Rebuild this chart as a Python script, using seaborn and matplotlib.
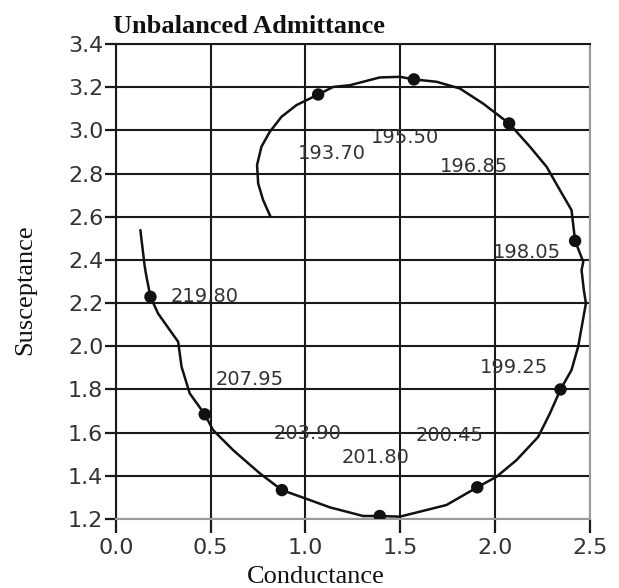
import matplotlib
matplotlib.use("Agg")
import matplotlib.pyplot as plt
import seaborn as sns
import pandas as pd

# Curva de admitância (condutância, susceptância)
cond = [0.816, 0.777, 0.751, 0.745, 0.768, 0.812, 0.874, 0.953, 1.067, 1.146,
        1.234, 1.392, 1.498, 1.572, 1.691, 1.814, 1.937, 2.074, 2.184, 2.272,
        2.342, 2.403, 2.422, 2.465, 2.456, 2.468, 2.479, 2.438, 2.403, 2.345,
        2.289, 2.227, 2.113, 2.008, 1.906, 1.744, 1.603, 1.498, 1.392, 1.304,
        1.217, 1.129, 1.023, 0.876, 0.759, 0.619, 0.513, 0.469, 0.390, 0.347,
        0.329, 0.285, 0.223, 0.183, 0.162, 0.153, 0.136, 0.130]
susc = [2.600, 2.677, 2.754, 2.839, 2.924, 2.993, 3.063, 3.117, 3.166, 3.201,
        3.209, 3.245, 3.248, 3.236, 3.225, 3.194, 3.124, 3.032, 2.924, 2.831,
        2.723, 2.631, 2.488, 2.391, 2.353, 2.260, 2.199, 1.998, 1.890, 1.800,
        1.689, 1.580, 1.473, 1.396, 1.347, 1.265, 1.234, 1.211, 1.214, 1.214,
        1.234, 1.254, 1.288, 1.334, 1.412, 1.519, 1.612, 1.685, 1.782, 1.905,
        2.021, 2.075, 2.152, 2.229, 2.322, 2.368, 2.492, 2.538]

# Pontos marcados e frequências
freqs = ["193.70", "195.50", "196.85", "198.05", "199.25",
         "200.45", "201.80", "203.90", "207.95", "219.80"]
mark_g = [1.067, 1.572, 2.074, 2.422, 2.345, 1.906, 1.392, 0.876, 0.469, 0.183]
mark_b = [3.166, 3.236, 3.032, 2.488, 1.800, 1.347, 1.214, 1.334, 1.685, 2.229]
label_g = [1.142, 1.524, 1.891, 2.168, 2.098, 1.762, 1.371, 1.009, 0.705, 0.469]
label_b = [2.894, 2.966, 2.834, 2.436, 1.901, 1.587, 1.485, 1.594, 1.848, 2.232]

x_ticks = [0.0, 0.5, 1.0, 1.5, 2.0, 2.5]
y_ticks = [1.2, 1.4, 1.6, 1.8, 2.0, 2.2, 2.4, 2.6, 2.8, 3.0, 3.2, 3.4]

curva = pd.DataFrame({"g": cond, "b": susc})
pontos = pd.DataFrame({"g": mark_g, "b": mark_b})

sns.set_theme(style="white")
plt.rcParams["font.family"] = ["DejaVu Sans"]

fig = plt.figure(figsize=(6.19, 5.88), dpi=100)
ax = fig.add_axes([0.187, 0.1173, 0.766, 0.8079])

# estimator=None para não agregar valores de x repetidos
sns.lineplot(data=curva, x="g", y="b", sort=False, estimator=None,
             color="#111111", linewidth=1.8, ax=ax, zorder=3)
sns.scatterplot(data=pontos, x="g", y="b", color="#111111", s=80,
                edgecolor="none", ax=ax, zorder=4)

for txt, gx, by in zip(freqs, label_g, label_b):
    ax.text(gx, by, txt, ha="center", va="center", fontsize=14,
            color="#333333", zorder=5)

ax.set_xlim(0, 2.5)
ax.set_ylim(1.2, 3.4)
ax.set_xticks(x_ticks)
ax.set_yticks(y_ticks)
ax.set_xticklabels([f"{v:.1f}" for v in x_ticks])
ax.set_yticklabels([f"{v:.1f}" for v in y_ticks])
ax.grid(True, color="#1a1a1a", linewidth=1.5)
ax.set_axisbelow(True)

for lado in ["left", "top"]:
    ax.spines[lado].set_color("#1a1a1a")
    ax.spines[lado].set_linewidth(1.5)
for lado in ["right", "bottom"]:
    ax.spines[lado].set_color("#9a9a9a")
    ax.spines[lado].set_linewidth(1.5)

ax.tick_params(axis="y", direction="out", length=8, width=1.6, pad=1,
               labelsize=16, color="#1a1a1a", labelcolor="#333333", left=True)
ax.tick_params(axis="x", direction="out", length=10, width=1.6, pad=4,
               labelsize=16, color="#1a1a1a", labelcolor="#333333", bottom=True)

ax.set_xlabel("")
ax.set_ylabel("")
fig.text(0.183, 0.944, "Unbalanced Admittance", fontsize=19, fontweight="bold",
         family="Liberation Serif", ha="left", va="baseline", color="#111111")
fig.text(0.511, 0.0085, "Conductance", fontsize=19, family="Liberation Serif",
         ha="center", va="baseline", color="#111111")
fig.text(0.04, 0.507, "Susceptance", fontsize=19, family="Liberation Serif",
         rotation=90, ha="center", va="center", color="#111111")

fig.savefig("out.png", dpi=100)
